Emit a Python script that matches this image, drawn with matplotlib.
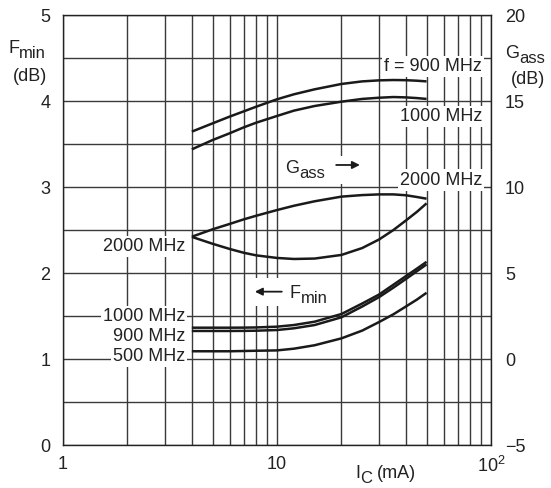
import numpy as np
import matplotlib.pyplot as plt
from matplotlib.ticker import LogLocator, NullFormatter, MultipleLocator
from matplotlib.patches import Rectangle

plt.rcParams['font.family'] = ['Liberation Sans', 'DejaVu Sans']
plt.rcParams['mathtext.fontset'] = 'custom'
plt.rcParams['mathtext.rm'] = 'Liberation Sans'

# collector current (mA)
ic = [4, 5, 6, 7, 8, 10, 12, 15, 20, 25, 30, 35, 40, 45, 50]

# minimum noise figure (dB), left axis
fmin_500 = [1.09, 1.09, 1.09, 1.093, 1.096, 1.10, 1.12, 1.16, 1.24, 1.33, 1.43, 1.52, 1.61, 1.69, 1.77]
fmin_900 = [1.326, 1.326, 1.326, 1.327, 1.329, 1.337, 1.357, 1.395, 1.485, 1.61, 1.72, 1.83, 1.93, 2.02, 2.10]
fmin_1000 = [1.364, 1.364, 1.364, 1.365, 1.367, 1.376, 1.395, 1.434, 1.523, 1.645, 1.75, 1.864, 1.963, 2.05, 2.13]
fmin_2000 = [2.42, 2.34, 2.28, 2.235, 2.205, 2.175, 2.163, 2.168, 2.21, 2.29, 2.39, 2.50, 2.61, 2.71, 2.81]

# associated gain (dB), right axis
gass_900 = [13.22, 13.70, 14.09, 14.40, 14.67, 15.10, 15.39, 15.68, 15.99, 16.14, 16.20, 16.22, 16.21, 16.18, 16.14]
gass_1000 = [12.19, 12.73, 13.12, 13.47, 13.74, 14.13, 14.44, 14.71, 14.96, 15.12, 15.19, 15.23, 15.21, 15.17, 15.12]
gass_2000 = [7.11, 7.54, 7.85, 8.12, 8.33, 8.66, 8.91, 9.17, 9.44, 9.53, 9.57, 9.57, 9.52, 9.42, 9.32]

x_ticks = [1, 10, 100]
x_labels = ['1', '10', r'$\mathregular{10^2}$']
left_ticks = [0, 1, 2, 3, 4, 5]
right_ticks = [-5, 0, 5, 10, 15, 20]

txt = '#222222'
fs = 13
W, H = 551, 488

fig = plt.figure(figsize=(W / 100, H / 100), dpi=100)
ax = fig.add_axes([63 / W, 1 - 445 / H, 428 / W, 430 / H])
ax.set_xscale('log')
ax.set_xlim(1, 100)
ax.set_ylim(0, 5)
ax.set_xticks(x_ticks)
ax.set_xticklabels(x_labels)
ax.xaxis.set_minor_locator(LogLocator(subs=range(2, 10)))
ax.xaxis.set_minor_formatter(NullFormatter())
ax.set_yticks(left_ticks)
ax.yaxis.set_minor_locator(MultipleLocator(0.5))
ax.grid(which='both', color='#3a3a3a', lw=1.0)
ax.set_axisbelow(True)
ax.tick_params(which='both', length=0, labelsize=fs, labelcolor=txt)
ax.tick_params(axis='y', pad=9)
ax.tick_params(axis='x', pad=8)
for s in ax.spines.values():
    s.set_color('#222222')
    s.set_linewidth(1.0)

lw = 1.8
for f in (fmin_500, fmin_900, fmin_1000, fmin_2000):
    ax.plot(ic, f, color='#1a1a1a', lw=lw, zorder=3, solid_capstyle='butt')

ax2 = ax.twinx()
ax2.set_ylim(-5, 20)
ax2.set_yticks(right_ticks)
ax2.set_yticklabels(['\u22125' if t < 0 else str(t) for t in right_ticks])
ax2.tick_params(length=0, labelsize=fs, labelcolor=txt, pad=10)
for s in ax2.spines.values():
    s.set_visible(False)
for g in (gass_900, gass_1000, gass_2000):
    ax2.plot(ic, g, color='#1a1a1a', lw=lw, zorder=3, solid_capstyle='butt')

box = dict(fc='white', ec='none', pad=1.5)
kw = dict(fontsize=fs, color=txt, ha='right', va='center', bbox=box, zorder=5)
ax.text(91, 4.40, 'f = 900 MHz', **kw)
ax.text(91, 3.82, '1000 MHz', **kw)
ax.text(91, 3.08, '2000 MHz', **kw)
ax.text(3.72, 2.31, '2000 MHz', **kw)
ax.text(3.72, 1.49, '1000 MHz', **kw)
ax.text(3.72, 1.26, '900 MHz', **kw)
ax.text(3.72, 1.03, '500 MHz', **kw)


def sub_label(x, y, base, sub, coords, base_w):
    # base letter plus a slightly smaller, lowered subscript
    ax.annotate(base, (x, y), xycoords=coords, fontsize=fs, color=txt,
                ha='left', va='baseline', annotation_clip=False, zorder=6)
    ax.annotate(sub, (x, y), xycoords=coords, xytext=(base_w * fs, -3.8),
                textcoords='offset points', fontsize=12, color=txt,
                ha='left', va='baseline', annotation_clip=False, zorder=6)


# G_ass arrow label
ax.add_patch(Rectangle((10.5, 3.03), 14.8, 0.33, fc='white', ec='none', zorder=4))
sub_label(10.88, 3.163, 'G', 'ass', 'data', 0.778)
ax.annotate('', xy=(24.4, 3.256), xytext=(18.9, 3.256),
            arrowprops=dict(arrowstyle='-|>', color='#1a1a1a', lw=1.3,
                            mutation_scale=11, shrinkA=0, shrinkB=0), zorder=6)

# F_min arrow label
ax.add_patch(Rectangle((7.6, 1.62), 8.8, 0.32, fc='white', ec='none', zorder=4))
sub_label(11.5, 1.709, 'F', 'min', 'data', 0.611)
ax.annotate('', xy=(7.88, 1.783), xytext=(10.53, 1.783),
            arrowprops=dict(arrowstyle='-|>', color='#1a1a1a', lw=1.3,
                            mutation_scale=11, shrinkA=0, shrinkB=0), zorder=6)

# axis titles
sub_label(8 / W, 1 - 53 / H, 'F', 'min', 'figure fraction', 0.611)
fig.text(30 / W, 1 - 76 / H, '(dB)', fontsize=fs, color=txt, ha='center', va='center')
sub_label(505 / W, 1 - 58 / H, 'G', 'ass', 'figure fraction', 0.778)
fig.text(528 / W, 1 - 80 / H, '(dB)', fontsize=fs, color=txt, ha='center', va='center')
sub_label(355 / W, 1 - 478 / H, 'I', 'C', 'figure fraction', 0.278)
fig.text(377 / W, 1 - 478 / H, '(mA)', fontsize=fs, color=txt, ha='left', va='baseline')

fig.savefig('out.png', dpi=100)
